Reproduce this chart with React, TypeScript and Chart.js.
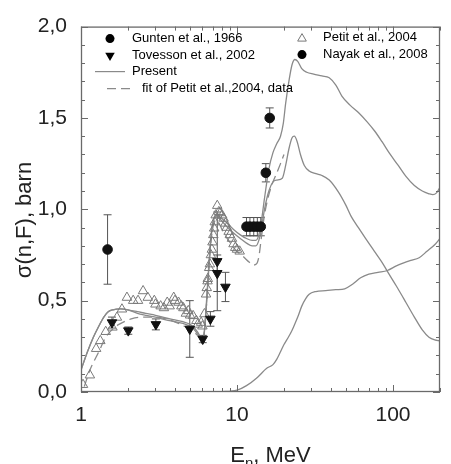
import React, { useEffect, useRef } from 'react';
import { Chart, registerables } from 'chart.js';

Chart.register(...registerables);

// ---------- data ----------
const seriesNames = [
  'Gunten et al., 1966',
  'Tovesson et al., 2002',
  'Present',
  'fit of Petit et al.,2004, data',
  'Petit et al., 2004',
  'Nayak et al., 2008',
];

const xTickLabels = [1, 10, 100];
const yTickValues = [0, 0.5, 1, 1.5, 2];

// Present (total)
const presentE = [1.0, 1.1, 1.2, 1.3, 1.4, 1.5, 1.6, 1.8, 2.0, 2.3, 2.6, 3.0, 3.5, 4.0, 4.5, 5.0, 5.4, 5.75, 6.0, 6.2, 6.4, 6.6, 6.8, 7.0, 7.3, 7.7, 8.5, 9.5, 10.5, 11.5, 12.5, 13.2, 13.8, 14.3, 15, 16, 17, 18, 19, 19.8, 20.5, 21.5, 22.5, 23.5, 24.5, 26, 28, 31, 35, 39, 43, 47, 53, 60, 68, 76, 85, 96, 108, 121, 137, 154, 170, 180, 190, 200];
const presentS = [0.12, 0.22, 0.30, 0.36, 0.41, 0.44, 0.45, 0.455, 0.45, 0.44, 0.43, 0.42, 0.405, 0.395, 0.385, 0.37, 0.345, 0.31, 0.27, 0.35, 0.52, 0.70, 0.85, 0.93, 0.97, 0.96, 0.93, 0.89, 0.86, 0.84, 0.83, 0.83, 0.86, 0.93, 1.06, 1.22, 1.31, 1.36, 1.40, 1.47, 1.58, 1.70, 1.79, 1.82, 1.81, 1.77, 1.75, 1.74, 1.73, 1.72, 1.68, 1.62, 1.57, 1.53, 1.48, 1.43, 1.37, 1.30, 1.24, 1.18, 1.13, 1.10, 1.085, 1.08, 1.09, 1.12];

// Present, first component
const firstE = [1.0, 1.1, 1.2, 1.3, 1.4, 1.5, 1.6, 1.8, 2.0, 2.3, 2.6, 3.0, 3.5, 4.0, 4.5, 5.0, 5.4, 5.75, 6.0, 6.2, 6.4, 6.6, 6.8, 7.0, 7.3, 7.7, 8.5, 9.5, 10.5, 11.5, 12.5, 13.2, 13.8, 14.3, 15, 16, 17, 18, 19.5, 20.5, 21.5, 22.5, 23.3, 24.3, 25.5, 27, 29, 32, 35, 39, 44.6, 50, 54, 60, 68, 76, 85, 92, 105, 121, 137, 154, 170, 185, 200];
const firstS = [0.12, 0.22, 0.30, 0.36, 0.41, 0.44, 0.45, 0.455, 0.45, 0.43, 0.42, 0.41, 0.395, 0.385, 0.375, 0.36, 0.335, 0.30, 0.265, 0.34, 0.50, 0.68, 0.83, 0.92, 0.96, 0.95, 0.91, 0.87, 0.84, 0.815, 0.80, 0.80, 0.83, 0.89, 1.00, 1.10, 1.15, 1.16, 1.17, 1.24, 1.33, 1.39, 1.40, 1.37, 1.30, 1.24, 1.21, 1.195, 1.185, 1.16, 1.095, 1.02, 0.96, 0.90, 0.83, 0.77, 0.71, 0.66, 0.58, 0.49, 0.41, 0.34, 0.30, 0.285, 0.28];

// Present, second component
const secondE = [6, 8, 10, 11.5, 13.5, 15.5, 17, 18, 19, 20, 21, 22, 23, 24.5, 26, 27.5, 29, 32, 37, 43, 49, 55, 62, 70, 80, 92, 105, 116, 130, 147, 165, 187, 200];
const secondS = [0.0, 0.002, 0.01, 0.035, 0.08, 0.13, 0.15, 0.18, 0.22, 0.26, 0.29, 0.32, 0.355, 0.41, 0.47, 0.51, 0.535, 0.55, 0.555, 0.56, 0.565, 0.59, 0.625, 0.645, 0.655, 0.665, 0.69, 0.705, 0.72, 0.735, 0.77, 0.81, 0.84];

// fit of Petit et al. 2004 data
const fitE = [1.05, 1.14, 1.3, 1.44, 1.6, 1.75, 2.1, 2.5, 3.0, 3.5, 4.1, 4.6, 5.2, 5.7, 6.0, 6.2, 6.4, 6.6, 6.8, 7.0, 7.3, 7.6, 8.0, 8.5, 9.0, 9.5, 10, 11, 12, 12.7, 13.3, 13.8, 14.3, 15, 16, 17, 18, 19, 20];
const fitS = [0.03, 0.12, 0.22, 0.30, 0.345, 0.37, 0.40, 0.41, 0.41, 0.40, 0.38, 0.36, 0.335, 0.30, 0.27, 0.34, 0.50, 0.68, 0.82, 0.90, 0.94, 0.93, 0.89, 0.85, 0.82, 0.79, 0.77, 0.74, 0.71, 0.695, 0.70, 0.74, 0.84, 0.97, 1.08, 1.15, 1.20, 1.25, 1.30];

// Petit et al. 2004 (open triangles)
const petitE = [1.03, 1.14, 1.25, 1.33, 1.44, 1.59, 1.70, 1.83, 1.97, 2.16, 2.32, 2.50, 2.68, 2.95, 3.24, 3.57, 3.93, 4.22, 4.53, 4.87, 5.23, 5.49, 5.89, 3.0, 3.4, 3.7, 4.0, 4.4, 4.7, 5.0, 5.6, 6.0, 6.18, 6.33, 6.4, 6.47, 6.5, 6.63, 6.7, 6.80, 6.9, 6.96, 7.05, 7.14, 7.2, 7.3, 7.47, 7.65, 7.8, 8.03, 8.2, 8.43, 8.6, 8.84, 9.0, 9.28, 9.5, 9.74, 10.0, 10.4];
const petitS = [0.04, 0.092, 0.237, 0.28, 0.33, 0.354, 0.408, 0.453, 0.517, 0.50, 0.50, 0.553, 0.517, 0.50, 0.47, 0.49, 0.517, 0.49, 0.46, 0.444, 0.417, 0.39, 0.38, 0.48, 0.46, 0.47, 0.50, 0.47, 0.43, 0.42, 0.37, 0.36, 0.427, 0.535, 0.57, 0.607, 0.62, 0.68, 0.70, 0.75, 0.78, 0.82, 0.86, 0.896, 0.93, 0.968, 1.02, 0.986, 0.98, 0.968, 0.95, 0.923, 0.90, 0.878, 0.86, 0.84, 0.81, 0.79, 0.78, 0.77];

// Tovesson et al. 2002 (filled down triangles)
const tovE = [1.58, 2.01, 3.02, 4.98, 6.03, 6.75, 7.47, 7.47, 8.43];
const tovS = [0.38, 0.336, 0.37, 0.345, 0.29, 0.40, 0.715, 0.65, 0.575];
const tovErr = [0.03, 0.02, 0.03, 0.155, 0.02, 0.04, 0.27, 0.1, 0.08];

// Gunten et al. 1966 (filled circles)
const gunE = [1.48, 11.5, 12.1, 12.8, 13.5, 14.2];
const gunS = [0.78, 0.905, 0.905, 0.905, 0.905, 0.905];
const gunErr = [0.19, 0.05, 0.05, 0.05, 0.05, 0.05];

// Nayak et al. 2008 (filled circles)
const nayE = [15.3, 16.2];
const nayS = [1.2, 1.5];
const nayErr = [0.05, 0.055];

// ---------- helpers ----------
const pts = (xs: number[], ys: number[]) => xs.map((x, i) => ({ x, y: ys[i] }));
const FONT = "'Liberation Sans', Arial, Helvetica, sans-serif";
const LINE = '#8a8a8a';

function drawTri(ctx: CanvasRenderingContext2D, x: number, y: number, r: number, down: boolean) {
  const s = down ? -1 : 1;
  ctx.beginPath();
  ctx.moveTo(x, y - s * r);
  ctx.lineTo(x - r * 0.866, y + s * r * 0.5);
  ctx.lineTo(x + r * 0.866, y + s * r * 0.5);
  ctx.closePath();
}

const errorBarPlugin = {
  id: 'errorBars',
  beforeDatasetsDraw(chart: any) {
    const { ctx, scales } = chart;
    ctx.save();
    ctx.strokeStyle = '#555';
    ctx.lineWidth = 1;
    chart.data.datasets.forEach((ds: any) => {
      if (!ds.errors) return;
      ds.data.forEach((p: any, i: number) => {
        const e = ds.errors[i];
        const px = scales.x.getPixelForValue(p.x);
        const y1 = scales.y.getPixelForValue(p.y - e);
        const y2 = scales.y.getPixelForValue(p.y + e);
        ctx.beginPath();
        ctx.moveTo(px, y1); ctx.lineTo(px, y2);
        ctx.moveTo(px - 4, y1); ctx.lineTo(px + 4, y1);
        ctx.moveTo(px - 4, y2); ctx.lineTo(px + 4, y2);
        ctx.stroke();
      });
    });
    ctx.restore();
  },
};

const framePlugin = {
  id: 'frameAndTitles',
  afterDraw(chart: any) {
    const { ctx, chartArea, scales } = chart;
    const { left, right, top, bottom } = chartArea;
    ctx.save();
    ctx.strokeStyle = '#6a6a6a';
    ctx.lineWidth = 1.3;
    ctx.strokeRect(left + 0.5, top + 0.5, right - left - 1, bottom - top - 1);
    ctx.lineWidth = 1;
    // x ticks (log)
    for (const dec of [1, 10, 100]) {
      for (let k = 1; k <= 9; k++) {
        const v = k * dec;
        if (v > scales.x.max) continue;
        const px = Math.round(scales.x.getPixelForValue(v)) + 0.5;
        const len = k === 1 ? 7 : 4;
        ctx.beginPath();
        ctx.moveTo(px, bottom); ctx.lineTo(px, bottom - len);
        ctx.moveTo(px, top); ctx.lineTo(px, top + len);
        ctx.stroke();
      }
    }
    // y ticks
    for (let i = 0; i <= 20; i++) {
      const v = i / 10;
      const py = Math.round(scales.y.getPixelForValue(v)) + 0.5;
      const len = i % 5 === 0 ? 7 : 4;
      ctx.beginPath();
      ctx.moveTo(left, py); ctx.lineTo(left + len, py);
      ctx.moveTo(right, py); ctx.lineTo(right - len, py);
      ctx.stroke();
    }

    // axis titles
    ctx.fillStyle = '#222';
    ctx.font = `22px ${FONT}`;
    ctx.textBaseline = 'middle';
    ctx.save();
    ctx.translate(left - 56, bottom - 172);
    ctx.rotate(-Math.PI / 2);
    ctx.textAlign = 'center';
    ctx.fillText('σ(n,F), barn', 0, 0);
    ctx.restore();

    ctx.textAlign = 'left';
    ctx.textBaseline = 'alphabetic';
    const main = `22px ${FONT}`;
    const sub = `15px ${FONT}`;
    ctx.font = main;
    const wE = ctx.measureText('E').width;
    const wRest = ctx.measureText(', MeV').width;
    ctx.font = sub;
    const wN = ctx.measureText('n').width;
    const cx = (left + right) / 2 + 10;
    let x0 = cx - (wE + wN + wRest) / 2;
    const base = bottom + 70;
    ctx.font = main;
    ctx.fillText('E', x0, base);
    x0 += wE;
    ctx.font = sub;
    ctx.fillText('n', x0, base + 6);
    x0 += wN;
    ctx.font = main;
    ctx.fillText(', MeV', x0, base);

    // legend
    ctx.font = `13px ${FONT}`;
    ctx.textBaseline = 'middle';
    ctx.fillStyle = '#000';
    const lx = left + 29;
    const tx = left + 51;
    // Gunten
    ctx.beginPath(); ctx.arc(lx, top + 12, 4.5, 0, Math.PI * 2); ctx.fill();
    ctx.fillText(seriesNames[0], tx, top + 12);
    // Tovesson
    drawTri(ctx, lx, top + 29, 5.5, true); ctx.fill();
    ctx.fillText(seriesNames[1], tx, top + 29);
    // Present
    ctx.strokeStyle = LINE; ctx.lineWidth = 1.2;
    ctx.beginPath(); ctx.moveTo(left + 14, top + 45); ctx.lineTo(left + 44, top + 45); ctx.stroke();
    ctx.fillText(seriesNames[2], tx, top + 45);
    // fit
    ctx.setLineDash([9, 5]);
    ctx.beginPath(); ctx.moveTo(left + 26, top + 62); ctx.lineTo(left + 54, top + 62); ctx.stroke();
    ctx.setLineDash([]);
    ctx.fillText(seriesNames[3], left + 61, top + 62);
    // Petit
    const rx = left + 221;
    const rtx = left + 242;
    ctx.strokeStyle = '#777'; ctx.lineWidth = 1;
    drawTri(ctx, rx, top + 12, 5, false); ctx.stroke();
    ctx.fillText(seriesNames[4], rtx, top + 11);
    // Nayak
    ctx.beginPath(); ctx.arc(rx, top + 28, 4.5, 0, Math.PI * 2); ctx.fill();
    ctx.fillText(seriesNames[5], rtx, top + 28);
    ctx.restore();
  },
};

export default function App() {
  const ref = useRef<HTMLCanvasElement | null>(null);

  useEffect(() => {
    document.body.style.margin = '0';
    const canvas = ref.current;
    if (!canvas) return;
    const lineBase = {
      type: 'line' as const,
      showLine: true,
      pointRadius: 0,
      fill: false,
      borderColor: LINE,
      borderWidth: 1.3,
      cubicInterpolationMode: 'monotone' as const,
      order: 2,
    };
    const chart = new Chart(canvas, {
      type: 'scatter',
      data: {
        datasets: [
          { ...lineBase, label: seriesNames[2], data: pts(presentE, presentS) },
          { ...lineBase, label: 'Present component 1', data: pts(firstE, firstS) },
          { ...lineBase, label: 'Present component 2', data: pts(secondE, secondS) },
          { ...lineBase, label: seriesNames[3], data: pts(fitE, fitS), borderDash: [9, 5] },
          {
            label: seriesNames[4], data: pts(petitE, petitS), pointStyle: 'triangle',
            pointRadius: 5.5, pointBackgroundColor: 'rgba(0,0,0,0)', pointBorderColor: '#7a7a7a',
            pointBorderWidth: 1, order: 1,
          },
          {
            label: seriesNames[1], data: pts(tovE, tovS), errors: tovErr, pointStyle: 'triangle',
            rotation: 180, pointRadius: 5.5, pointBackgroundColor: '#111', pointBorderColor: '#111',
            pointBorderWidth: 1, order: 0,
          } as any,
          {
            label: seriesNames[0], data: pts(gunE, gunS), errors: gunErr, pointStyle: 'circle',
            pointRadius: 4.8, pointBackgroundColor: '#111', pointBorderColor: '#111', order: 0,
          } as any,
          {
            label: seriesNames[5], data: pts(nayE, nayS), errors: nayErr, pointStyle: 'circle',
            pointRadius: 4.8, pointBackgroundColor: '#111', pointBorderColor: '#111', order: 0,
          } as any,
        ],
      },
      options: {
        animation: false,
        responsive: false,
        maintainAspectRatio: false,
        layout: { padding: { top: 23, right: 1, left: 0, bottom: 0 } },
        plugins: { legend: { display: false }, tooltip: { enabled: false } },
        scales: {
          x: {
            type: 'logarithmic',
            min: 1,
            max: 200,
            grid: { display: false, drawTicks: false },
            border: { display: false },
            ticks: {
              autoSkip: false,
              maxRotation: 0,
              padding: 11,
              color: '#222',
              font: { family: FONT, size: 21 },
              callback: (v: any) => (xTickLabels.includes(Number(v)) ? String(v) : ''),
            },
            afterFit: (s: any) => { s.height = 72; },
          },
          y: {
            type: 'linear',
            min: 0,
            max: 2,
            grid: { display: false, drawTicks: false },
            border: { display: false },
            afterBuildTicks: (s: any) => { s.ticks = yTickValues.map((v) => ({ value: v })); },
            ticks: {
              padding: 14,
              color: '#222',
              font: { family: FONT, size: 21 },
              callback: (v: any) => Number(v).toFixed(1).replace('.', ','),
            },
            afterFit: (s: any) => { s.width = 81; },
          },
        },
      },
      plugins: [errorBarPlugin, framePlugin],
    });
    return () => chart.destroy();
  }, []);

  return (
    <div style={{ width: 451, height: 464 }}>
      <canvas ref={ref} width={451} height={464} style={{ display: 'block' }} />
    </div>
  );
}
